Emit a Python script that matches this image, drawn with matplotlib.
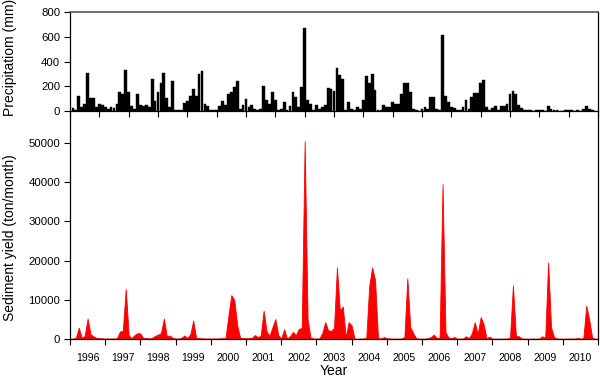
import numpy as np
import matplotlib
matplotlib.use("Agg")
import matplotlib.pyplot as plt

plt.rcParams['font.family'] = ['Liberation Sans', 'DejaVu Sans']

years = list(range(1996, 2011))

# monthly precipitation (mm), one row per year Jan..Dec
precip = [
    [25, 8, 120, 30, 60, 305, 105, 105, 30, 60, 50, 30],        # 1996
    [20, 30, 25, 60, 155, 140, 330, 150, 40, 20, 135, 50],      # 1997
    [40, 50, 30, 260, 80, 150, 225, 305, 105, 35, 240, 5],      # 1998
    [5, 8, 65, 80, 125, 180, 120, 295, 320, 60, 40, 5],         # 1999
    [10, 5, 40, 80, 45, 140, 150, 190, 240, 20, 50, 95],        # 2000
    [30, 50, 20, 10, 20, 200, 85, 60, 150, 85, 8, 15],          # 2001
    [70, 5, 40, 150, 110, 30, 195, 670, 90, 60, 10, 50],        # 2002
    [15, 35, 50, 185, 175, 165, 345, 290, 260, 5, 75, 20],      # 2003
    [5, 35, 20, 90, 280, 230, 295, 170, 5, 5, 50, 30],          # 2004
    [30, 70, 55, 55, 135, 230, 225, 150, 20, 8, 3, 20],         # 2005
    [30, 20, 110, 110, 20, 10, 615, 120, 70, 35, 25, 8],        # 2006
    [8, 35, 90, 20, 110, 145, 145, 230, 250, 35, 8, 25],        # 2007
    [40, 8, 40, 40, 55, 135, 160, 135, 50, 25, 12, 12],         # 2008
    [5, 2, 12, 5, 12, 3, 40, 20, 12, 5, 2, 2],                  # 2009
    [12, 12, 12, 2, 5, 3, 20, 40, 20, 5, 2, 2],                 # 2010
]

# monthly sediment yield (ton/month)
sediment = [
    [100, 300, 2900, 300, 800, 5200, 1200, 700, 300, 200, 150, 100],
    [100, 100, 100, 200, 1900, 2100, 12800, 1000, 200, 1000, 1500, 1400],
    [200, 300, 100, 300, 800, 1100, 1500, 5200, 700, 900, 300, 100],
    [100, 300, 900, 300, 1200, 4700, 300, 200, 150, 100, 100, 100],
    [100, 100, 150, 200, 200, 6000, 11200, 10000, 3500, 300, 200, 200],
    [200, 300, 1000, 500, 800, 7200, 2000, 800, 3000, 5100, 1000, 100],
    [2500, 100, 700, 1800, 1000, 2600, 2800, 50500, 5000, 400, 100, 100],
    [100, 1500, 4300, 2200, 2100, 2800, 18300, 7300, 8300, 500, 4300, 3500],
    [100, 0, 100, 100, 300, 13500, 18300, 15000, 300, 100, 500, 200],
    [100, 50, 50, 50, 100, 500, 15500, 3000, 1500, 200, 50, 50],
    [50, 200, 500, 1100, 300, 200, 39500, 1800, 400, 200, 500, 100],
    [50, 100, 700, 200, 1500, 4300, 1300, 5600, 3800, 200, 600, 100],
    [50, 50, 50, 50, 100, 300, 13700, 800, 700, 100, 50, 50],
    [50, 50, 50, 100, 700, 300, 19500, 3000, 500, 100, 50, 50],
    [50, 100, 100, 50, 300, 50, 200, 8500, 5000, 300, 50, 50],
]

p = np.array(precip).ravel()
s = np.array(sediment).ravel()
months = np.arange(1, len(p) + 1)

fig = plt.figure(figsize=(6, 3.78), dpi=100)
W, H = 600.0, 378.0
ax1 = fig.add_axes([70 / W, 1 - 111 / H, 528 / W, 99 / H])
ax2 = fig.add_axes([70 / W, 1 - 339 / H, 528 / W, 228 / H])
ax1.set_zorder(3)
ax2.patch.set_visible(False)

# precipitation bars
ax1.bar(months, p, width=0.95, color='black', edgecolor='black', linewidth=0.3)
ax1.set_xlim(0, 180)
ax1.set_ylim(0, 800)
ax1.set_yticks(range(0, 801, 200))
ax1.set_xticks(range(0, 181, 10))
ax1.set_xticklabels([])
ax1.tick_params(axis='y', direction='out', length=4, width=0.8, labelsize=8.2, pad=3)
ax1.tick_params(axis='x', direction='out', length=4, width=0.8)
for side in ['left', 'right', 'bottom']:
    ax1.spines[side].set_linewidth(0.9)
ax1.spines['top'].set_color('#555555')
ax1.spines['top'].set_linewidth(1.2)
ax1.set_ylabel('Precipitatiom (mm)', fontsize=10)
ax1.yaxis.set_label_coords(-0.100, 0.545)

# sediment area
ax2.fill_between(months, 0, s, color='#ff0000', linewidth=0.6)
ax2.axhline(0, color='#ff0000', linewidth=1.0, zorder=3)
ax2.set_xlim(0, 180)
ax2.set_ylim(0, 58200)
ax2.set_yticks(range(0, 50001, 10000))
ax2.set_xticks(range(0, 181, 12))
ax2.set_xticklabels([])
ax2.set_xticks(np.arange(6, 180, 12), minor=True)
ax2.set_xticklabels([str(y) for y in years], minor=True)
ax2.tick_params(axis='x', which='major', direction='out', length=4, width=0.8)
ax2.tick_params(axis='x', which='minor', length=0, labelsize=7.6, pad=10)
ax2.tick_params(axis='y', direction='out', length=4, width=0.8, labelsize=8.2, pad=3)
ax2.spines['top'].set_visible(False)
for side in ['left', 'right', 'bottom']:
    ax2.spines[side].set_linewidth(0.9)
ax2.set_ylabel('Sediment yield (ton/month)', fontsize=10)
ax2.yaxis.set_label_coords(-0.100, 0.443)
ax2.set_xlabel('Year', fontsize=10, labelpad=1)

fig.savefig('out.png', dpi=100)
